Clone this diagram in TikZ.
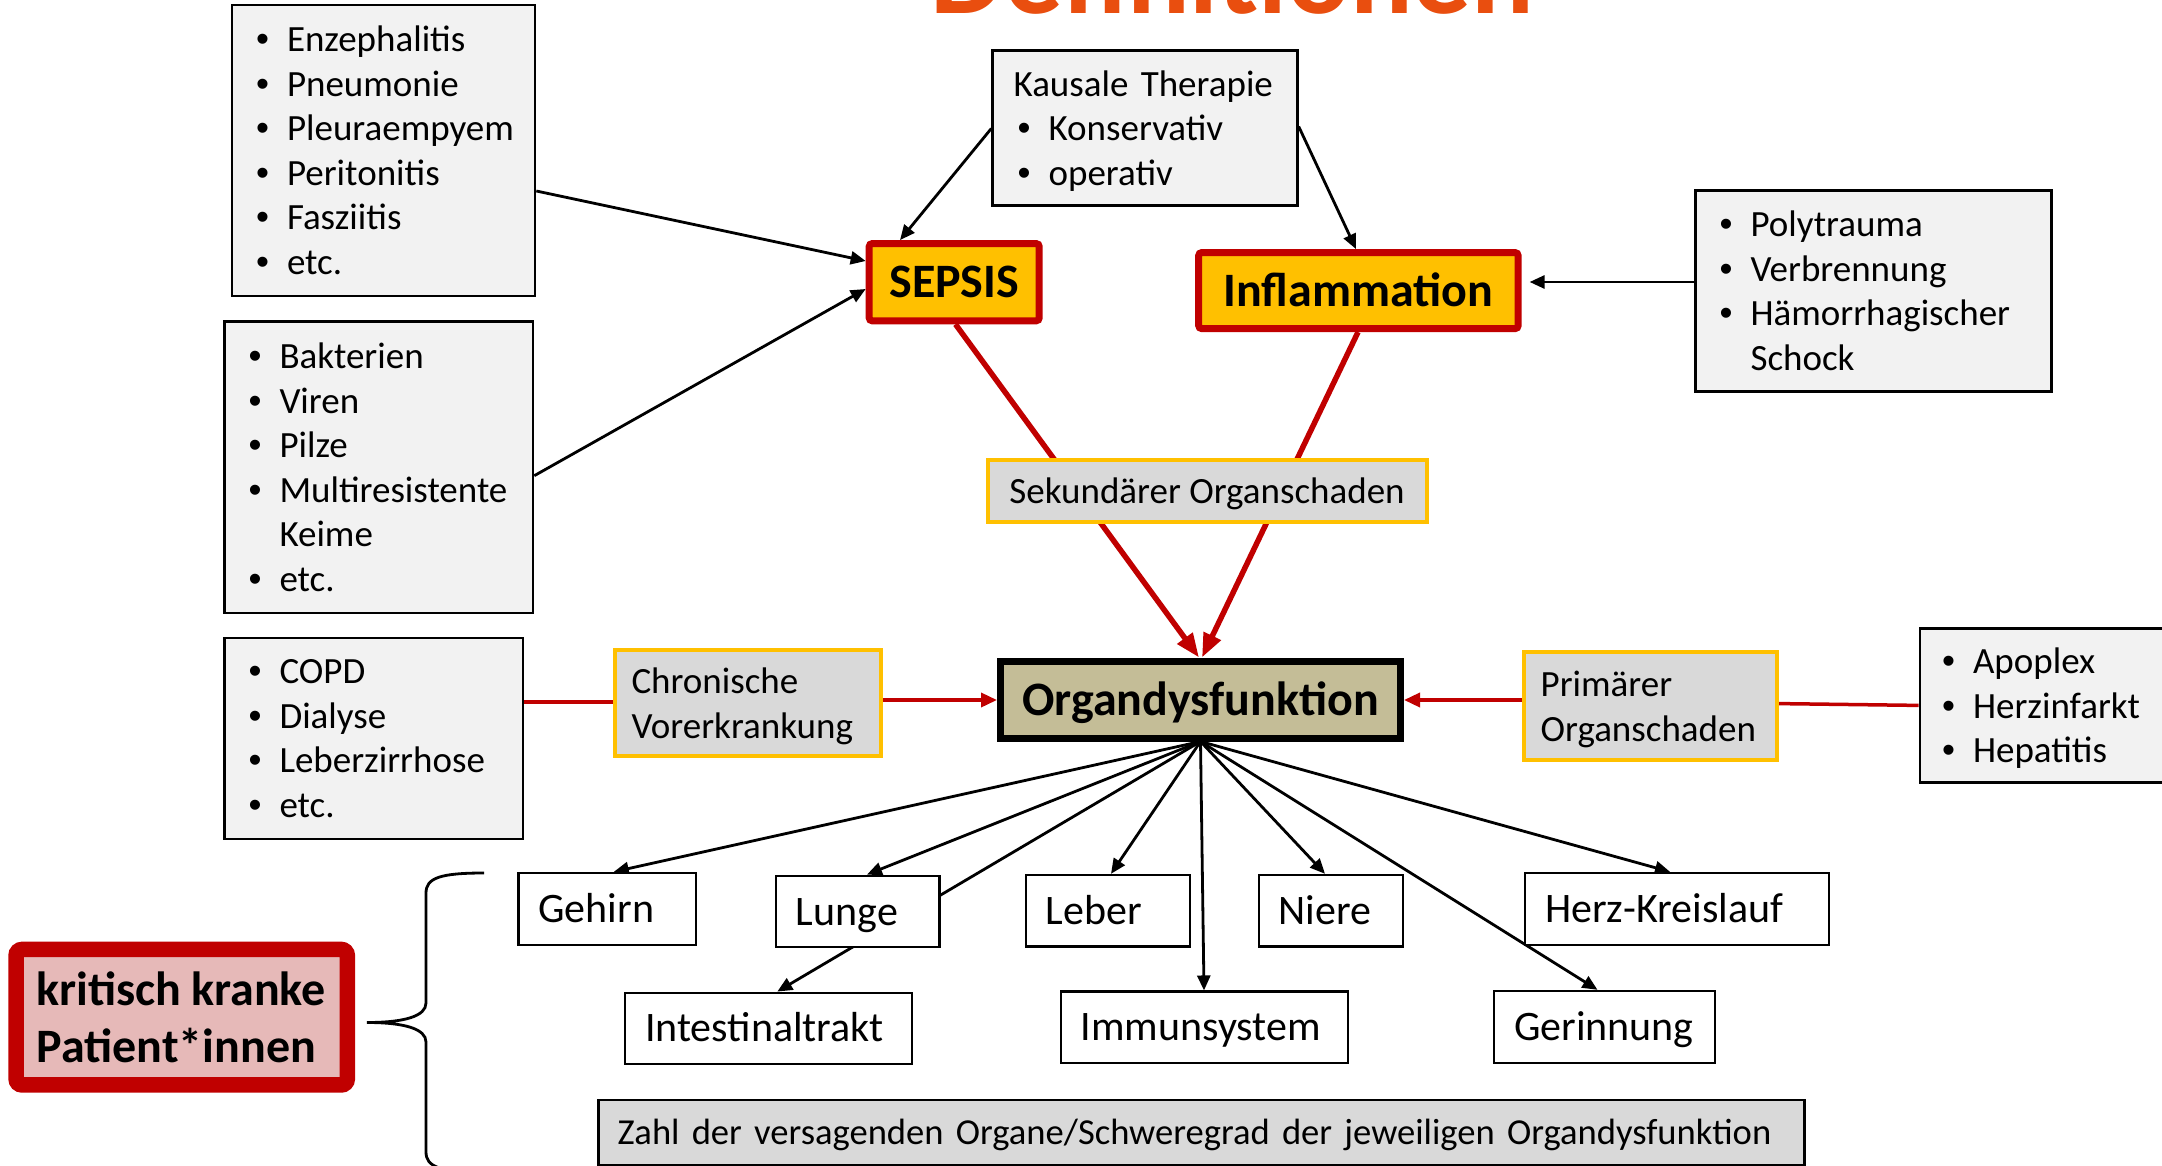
\documentclass[tikz,border=0pt]{standalone}
\usepackage{fontspec}
\setmainfont{Carlito}
\newfontfamily\bulletfont{Liberation Sans}
\usetikzlibrary{arrows.meta}
\pgfdeclarelayer{backdrop}
\pgfdeclarelayer{bg}
\pgfsetlayers{backdrop,bg,main}
\definecolor{cred}{HTML}{C00000}
\definecolor{cyellow}{HTML}{FFC000}
\definecolor{lgray}{HTML}{F2F2F2}
\definecolor{mgray}{HTML}{D9D9D9}
\definecolor{tanfill}{HTML}{C4BD97}
\definecolor{pinkfill}{HTML}{E6B9B8}
\definecolor{titleorange}{HTML}{E94E0F}
\newcommand{\bl}[1]{\mbox{\makebox[15.5pt][l]{\bulletfont\textbullet}#1}}
\newcommand{\bc}[1]{\mbox{\hspace*{15.5pt}#1}}
\tikzset{
  basebox/.style={inner ysep=0pt, anchor=center},
  listbox/.style={basebox, draw=black, line width=1.3pt, fill=lgray, inner xsep=12pt, align=left, font=\fontsize{18.5}{22.25}\selectfont},
  ybox/.style={basebox, draw=cyellow, line width=2pt, fill=mgray, font=\fontsize{18.5}{22.5}\selectfont},
  keybox/.style={basebox, draw=cred, line width=3.5pt, fill=cyellow, rounded corners=1.5pt, inner xsep=0pt, text height=15.5pt, text depth=0pt, font=\bfseries\fontsize{24}{28}\selectfont},
  organ/.style={basebox, draw=black, line width=1.2pt, fill=white, inner xsep=10pt, align=left, text height=13.5pt, text depth=0pt, font=\fontsize{21}{25}\selectfont},
  arr/.style={-{Triangle[length=7.5pt,width=6.5pt]}, line width=1.4pt, draw=black},
  rarr/.style={-{Triangle[length=12pt,width=9pt]}, line width=2.75pt, draw=cred},
  rarrsmall/.style={-{Triangle[length=8pt,width=7pt]}, line width=1.75pt, draw=cred},
  rline/.style={line width=1.75pt, draw=cred},
}
\begin{document}
\begin{tikzpicture}[x=0.5pt,y=-0.5pt]
\useasboundingbox (0,0) rectangle (2162,1166);
\begin{pgfonlayer}{backdrop}
\fill[white] (0,0) rectangle (2162,1166);
\end{pgfonlayer}

% title (cut at the top edge, as in the reference)
\node[anchor=base, inner sep=0pt, text=titleorange, font=\bfseries\fontsize{58.5}{60}\selectfont] (title) at (1232.5,13.5) {Definitionen};

% bullet boxes
\node[listbox, text width=127.5pt, minimum height=145.5pt] (inf) at (383.5,150.5)
 {\bl{Enzephalitis}\\ \bl{Pneumonie}\\ \bl{Pleuraempyem}\\ \bl{Peritonitis}\\ \bl{Fasziitis}\\ \bl{etc.}};
\node[listbox, text width=130.25pt, minimum height=145.75pt] (path) at (378.75,467.25)
 {\bl{Bakterien}\\ \bl{Viren}\\ \bl{Pilze}\\ \bl{Multiresistente}\\ \bc{Keime}\\ \bl{etc.}};
\node[listbox, text width=125.25pt, minimum height=100.5pt] (chron) at (373.75,738.5)
 {\bl{COPD}\\ \bl{Dialyse}\\ \bl{Leberzirrhose}\\ \bl{etc.}};
\node[listbox, inner xsep=10.5pt, text width=131.4pt, minimum height=77.5pt, text depth=44.5pt] (kaus) at (1145,128.1)
 {\mbox{Kausale Therapie}\\ \hspace*{2pt}\bl{Konservativ}\\ \hspace*{2pt}\bl{operativ}};
\node[listbox, text width=154pt, minimum height=100.4pt] (poly) at (1873.5,291)
 {\bl{Polytrauma}\\ \bl{Verbrennung}\\ \bl{Hämorrhagischer}\\ \bc{Schock}};
\node[listbox, inner xsep=11pt, text width=108pt, minimum height=77.2pt, text depth=44.5pt] (apo) at (2050,705.5)
 {\bl{Apoplex}\\ \bl{Herzinfarkt}\\ \bl{Hepatitis}};

% yellow framed boxes
\node[ybox, inner xsep=0pt, minimum width=219.5pt, minimum height=31pt, text height=12pt, text depth=0pt] (sek) at (1207,491) {Sekundärer Organschaden};
\node[ybox, align=left, inner xsep=8.5pt, text width=116pt, minimum height=53pt, text depth=22.5pt] (chr) at (747.5,702.9) {Chronische\\Vorerkrankung};
\node[ybox, align=left, inner xsep=8.5pt, text width=109.7pt, minimum height=54pt, text depth=22.5pt] (prim) at (1650.3,705.8) {Primärer\\Organschaden};

% key boxes
\node[keybox, minimum width=85pt, minimum height=38.6pt] (sep) at (954.2,282.2) {SEPSIS};
\node[keybox, minimum width=159.7pt, minimum height=38pt] (infl) at (1358.4,290.6) {Inflammation};
\node[basebox, draw=black, line width=3.5pt, fill=tanfill, inner xsep=0pt, minimum width=200pt, minimum height=38.5pt, text height=15.5pt, text depth=0pt, font=\bfseries\fontsize{24}{28}\selectfont] (od) at (1200.5,699.5) {Organdysfunktion};

\node[basebox, draw=cred, line width=7.75pt, rounded corners=3pt, fill=pinkfill, align=left, inner xsep=10.3pt, text width=145pt, minimum height=67.75pt, font=\bfseries\fontsize{24}{28.5}\selectfont] (krit) at (181.7,1017.2) {\mbox{kritisch\hspace{0.2em}kranke}\\\mbox{Patient*innen}};

% organ boxes
\node[organ, text width=68.8pt, minimum height=35.9pt] (gehirn) at (607.2,908.9) {Gehirn};
\node[organ, text width=61.7pt, minimum height=35.75pt] (lunge) at (857.6,911.5) {Lunge};
\node[organ, text width=62pt, minimum height=35.8pt] (leber) at (1107.7,910.8) {Leber};
\node[organ, text width=52.1pt, minimum height=35.8pt] (niere) at (1330.8,910.8) {Niere};
\node[organ, text width=131.85pt, minimum height=35.9pt] (herz) at (1676.9,908.9) {\mbox{Herz-Kreislauf}};
\node[organ, text width=123.5pt, minimum height=35.55pt] (intest) at (768.5,1028.3) {Intestinaltrakt};
\node[organ, text width=123.5pt, minimum height=35.55pt] (immun) at (1204.2,1027.2) {Immunsystem};
\node[organ, text width=90.4pt, minimum height=35.9pt] (gerinn) at (1604.4,1026.9) {Gerinnung};

\node[basebox, draw=black, line width=1.3pt, fill=mgray, align=left, inner xsep=9.5pt, text width=584pt, minimum height=32.5pt, text height=11.8pt, text depth=0pt, font=\fontsize{18.3}{22}\selectfont] (zahl) at (1201.5,1132.5) {\mbox{Zahl der versagenden Organe/Schweregrad der jeweiligen Organdysfunktion}};

% brace
\draw[line width=1.4pt] (484,873) .. controls (440,873) and (426,878) .. (426,893) -- (426,1003)
  .. controls (426,1016) and (405,1022.5) .. (367,1022.5)
  .. controls (405,1022.5) and (426,1029) .. (426,1042) -- (426,1152)
  .. controls (426,1167) and (440,1172) .. (484,1172);

% connectors
\begin{pgfonlayer}{bg}
\draw[arr] (inf.east |- 0,191) -- (sep.west |- 0,261);
\draw[arr] (path.east |- 0,475.7) -- (sep.west |- 0,289);
\draw[arr] (kaus.west |- 0,128.5) -- (sep.north -| 900,0);
\draw[arr] (kaus.east |- 0,126.5) -- (infl.north -| 1356,0);
\draw[arr, shorten >=4pt] (poly.west |- 0,282) -- (infl.east |- 0,282);
\draw[rarr] (sep.south -| 955.5,0) -- (od.north -| 1199,0);
\draw[rarr] (infl.south -| 1358,0) -- (od.north -| 1202,0);
\draw[rline] (chron.east |- 0,701.8) -- (chr.west |- 0,701.8);
\draw[rarrsmall] (chr.east |- 0,700) -- (od.west |- 0,700);
\draw[rarrsmall] (prim.west |- 0,700) -- (od.east |- 0,700);
\draw[rline] (apo.west |- 0,705.4) -- (prim.east |- 0,703.6);
\foreach \n/\x in {gehirn/613.8, lunge/867, leber/1111, niere/1325, herz/1670}
  \draw[arr] (od.south) -- (\n.north -| \x,0);
\foreach \n/\x in {intest/777.3, immun/1204, gerinn/1597.5}
  \draw[arr] (od.south) -- (\n.north -| \x,0);
\end{pgfonlayer}
\end{tikzpicture}
\end{document}
